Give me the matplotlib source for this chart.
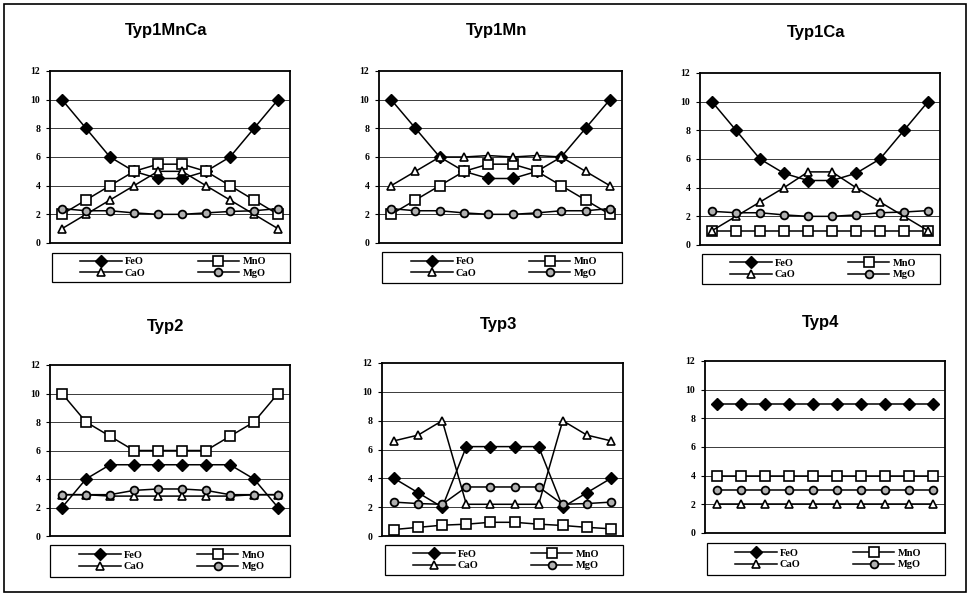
import matplotlib
matplotlib.use('Agg')
import matplotlib.pyplot as plt
from matplotlib.patches import Rectangle

# ---------------- data ----------------
samples = list(range(1, 11))
series_names = ['FeO', 'MnO', 'CaO', 'MgO']
titles = ['Typ1MnCa', 'Typ1Mn', 'Typ1Ca', 'Typ2', 'Typ3', 'Typ4']
y_ticks = [0, 2, 4, 6, 8, 10, 12]

typ1mnca_feo = [10, 8, 6, 5, 4.5, 4.5, 5, 6, 8, 10]
typ1mnca_mno = [2, 3, 4, 5, 5.5, 5.5, 5, 4, 3, 2]
typ1mnca_cao = [1, 2, 3, 4, 5, 5, 4, 3, 2, 1]
typ1mnca_mgo = [2.4, 2.25, 2.25, 2.1, 2.0, 2.0, 2.1, 2.2, 2.25, 2.4]

typ1mn_feo = [10, 8, 6, 5, 4.5, 4.5, 5, 6, 8, 10]
typ1mn_mno = [2, 3, 4, 5, 5.5, 5.5, 5, 4, 3, 2]
typ1mn_cao = [4, 5, 6, 6, 6.1, 6, 6.1, 6, 5, 4]
typ1mn_mgo = [2.4, 2.25, 2.25, 2.1, 2.0, 2.0, 2.1, 2.25, 2.25, 2.4]

typ1ca_feo = [10, 8, 6, 5, 4.5, 4.5, 5, 6, 8, 10]
typ1ca_mno = [1, 1, 1, 1, 1, 1, 1, 1, 1, 1]
typ1ca_cao = [1, 2, 3, 4, 5.1, 5.1, 4, 3, 2, 1]
typ1ca_mgo = [2.35, 2.25, 2.25, 2.1, 2.0, 2.0, 2.1, 2.25, 2.3, 2.4]

typ2_feo = [2, 4, 5, 5, 5, 5, 5, 5, 4, 2]
typ2_mno = [10, 8, 7, 6, 6, 6, 6, 7, 8, 10]
typ2_cao = [2.9, 2.9, 2.8, 2.8, 2.8, 2.8, 2.8, 2.8, 2.9, 2.9]
typ2_mgo = [2.9, 2.9, 2.9, 3.2, 3.3, 3.3, 3.2, 2.9, 2.9, 2.9]

typ3_feo = [4, 3, 2, 6.2, 6.2, 6.2, 6.2, 2, 3, 4]
typ3_mno = [0.45, 0.6, 0.75, 0.82, 0.95, 0.95, 0.82, 0.73, 0.6, 0.5]
typ3_cao = [6.6, 7, 8, 2.2, 2.2, 2.2, 2.2, 8, 7, 6.6]
typ3_mgo = [2.35, 2.25, 2.2, 3.4, 3.4, 3.4, 3.4, 2.2, 2.25, 2.35]

typ4_feo = [9, 9, 9, 9, 9, 9, 9, 9, 9, 9]
typ4_mno = [4, 4, 4, 4, 4, 4, 4, 4, 4, 4]
typ4_cao = [2, 2, 2, 2, 2, 2, 2, 2, 2, 2]
typ4_mgo = [3, 3, 3, 3, 3, 3, 3, 3, 3, 3]

panel_data = [
    [typ1mnca_feo, typ1mnca_mno, typ1mnca_cao, typ1mnca_mgo],
    [typ1mn_feo, typ1mn_mno, typ1mn_cao, typ1mn_mgo],
    [typ1ca_feo, typ1ca_mno, typ1ca_cao, typ1ca_mgo],
    [typ2_feo, typ2_mno, typ2_cao, typ2_mgo],
    [typ3_feo, typ3_mno, typ3_cao, typ3_mgo],
    [typ4_feo, typ4_mno, typ4_cao, typ4_mgo],
]

# ---------------- layout (pixels) ----------------
W, H = 970, 596
axes_px = [
    (50, 71, 290, 243),
    (379, 71, 622, 243),
    (700, 73, 940, 245),
    (50, 365, 290, 536),
    (382, 363, 623, 536),
    (705, 361, 945, 533),
]
legend_px = [
    (52, 253, 290, 282),
    (382, 252, 622, 283),
    (702, 254, 940, 284),
    (50, 545, 290, 577),
    (385, 545, 623, 575),
    (707, 543, 945, 575),
]
title_y_px = [31, 31, 32, 326, 325, 323]

styles = {
    'FeO': dict(marker='D', ms=6.0, mfc='black', mec='black', mew=1.0),
    'MnO': dict(marker='s', ms=6.5, mfc='white', mec='black', mew=1.2),
    'CaO': dict(marker='^', ms=6.0, mfc='white', mec='black', mew=1.2),
    'MgO': dict(marker='o', ms=5.6, mfc='#b0b0b0', mec='black', mew=1.3),
}

fig = plt.figure(figsize=(9.7, 5.96), dpi=100)


def rect(l, t, r, b):
    return [l / W, 1 - b / H, (r - l) / W, (b - t) / H]


tick_font = dict(family='Liberation Serif', size=7, weight='bold')
leg_font = dict(family='Liberation Serif', size=7.5, weight='bold')

for i, (title, data) in enumerate(zip(titles, panel_data)):
    l, t, r, b = axes_px[i]
    ax = fig.add_axes(rect(l, t, r, b))
    x = [s - 0.5 for s in samples]
    handles = {}
    for z, (name, vals) in enumerate(zip(series_names, data)):
        ln, = ax.plot(x, vals, color='black', lw=1.1, zorder=3 + z, **styles[name])
        handles[name] = ln
    ax.set_xlim(0, 10)
    ax.set_ylim(0, 12)
    ax.set_xticks([])
    ax.set_yticks(y_ticks)
    ax.set_yticklabels([str(v) for v in y_ticks], fontdict=tick_font)
    ax.tick_params(axis='y', length=3, width=0.8, pad=4, color='black')
    for yv in y_ticks[1:-1]:
        ax.axhline(yv, color='#3a3a3a', lw=0.7, zorder=1)
    for sp in ax.spines.values():
        sp.set_linewidth(1.3)
        sp.set_color('black')
    fig.text(((l + r) / 2 - 4) / W, 1 - title_y_px[i] / H, title,
             ha='center', va='center', fontsize=12, fontweight='bold',
             family='Liberation Sans')
    ll, lt, lr, lb = legend_px[i]
    order = ['FeO', 'CaO', 'MnO', 'MgO']
    ax.legend([handles[n] for n in order], order, loc='center',
              bbox_to_anchor=(((ll + lr) / 2 + 2) / W, 1 - ((lt + lb) / 2) / H),
              bbox_transform=fig.transFigure, ncol=2, frameon=False,
              handlelength=4.0, columnspacing=5.0, labelspacing=0.2,
              handletextpad=0.3, prop=leg_font, borderpad=0.2)
    fig.add_artist(Rectangle((ll / W, 1 - lb / H), (lr - ll) / W, (lb - lt) / H,
                             transform=fig.transFigure, fill=False,
                             edgecolor='black', lw=0.9))

fig.add_artist(Rectangle((4 / W, 4 / H), 962 / W, 588 / H, transform=fig.transFigure,
                         fill=False, edgecolor='black', lw=1.2))

fig.savefig('out.png', dpi=100)
